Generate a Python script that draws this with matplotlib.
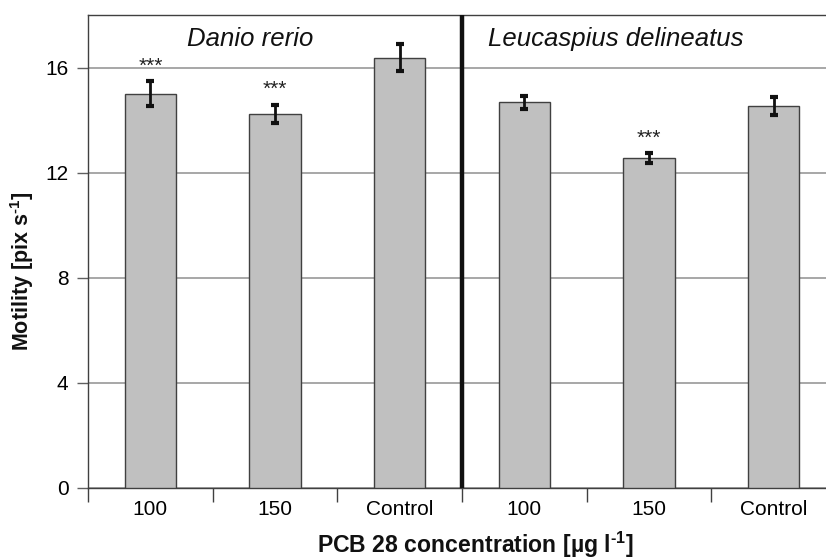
import matplotlib
matplotlib.use("Agg")
import matplotlib.pyplot as plt
import numpy as np

plt.rcParams['font.family'] = ['Liberation Sans', 'DejaVu Sans']
plt.rcParams['mathtext.fontset'] = 'custom'
plt.rcParams['mathtext.rm'] = 'Liberation Sans:bold'
plt.rcParams['mathtext.it'] = 'Liberation Sans:italic'
plt.rcParams['mathtext.bf'] = 'Liberation Sans:bold'

# Motility per treatment, two species side by side
categories = ["100", "150", "Control", "100", "150", "Control"]
motility = [15.0, 14.24, 16.38, 14.68, 12.55, 14.54]
errors = [0.48, 0.34, 0.53, 0.25, 0.19, 0.35]
significance = ["***", "***", "", "", "***", ""]
species = ["Danio rerio", "Leucaspius delineatus"]
yticks = [0, 4, 8, 12, 16]

fig = plt.figure(figsize=(8.26, 5.59), dpi=100)
ax = fig.add_axes([88 / 826, 71.3 / 559, 748 / 826, 472.7 / 559])

x = np.arange(len(categories))
ax.bar(x, motility, width=0.41, color="#c0c0c0", edgecolor="#404040",
       linewidth=1.0, zorder=3)
ax.errorbar(x, motility, yerr=errors, fmt="none", ecolor="#111111",
            elinewidth=2.0, capsize=2.6, capthick=3.0, zorder=4)

for xi, val, err, sig in zip(x, motility, errors, significance):
    if sig:
        ax.text(xi, val + err + 0.22, sig, ha="center", va="bottom",
                fontsize=15, color="#222222", zorder=5)

ax.set_xlim(-0.5, 5.5)
ax.set_ylim(0, 18)
ax.set_yticks(yticks)
ax.yaxis.grid(True, color="#a0a0a0", linewidth=1.3, zorder=0)
ax.set_axisbelow(True)

ax.set_xticks(x)
ax.set_xticklabels(categories, fontsize=15)
ax.set_xticks(np.arange(-0.5, 6.0, 1.0), minor=True)
ax.tick_params(axis="x", which="major", length=0, pad=9)
ax.tick_params(axis="x", which="minor", length=10, width=1, color="#404040",
               direction="out")
ax.tick_params(axis="y", length=8, width=1, color="#606060", direction="out",
               labelsize=15, pad=6)

for side in ["left", "bottom", "top", "right"]:
    ax.spines[side].set_color("#404040")
    ax.spines[side].set_linewidth(1.0)

# species divider
ax.axvline(2.5, color="#111111", linewidth=3.2, zorder=6)

ax.text(0.8, 17.1, species[0], ha="center", va="center", fontsize=18.5,
        style="italic", color="#111111")
ax.text(3.735, 17.1, species[1], ha="center", va="center", fontsize=18.5,
        style="italic", color="#111111")

fig.text(475 / 826, 1 - 545 / 559, r"PCB 28 concentration [µg l$^{\text{-1}}$]",
         ha="center", va="center", fontsize=16.6, fontweight="bold", color="#111111")
fig.text(22 / 826, 1 - 271 / 559, r"Motility [pix s$^{\text{-1}}$]",
         ha="center", va="center", rotation=90, fontsize=15.5, fontweight="bold",
         color="#111111")

fig.savefig("out.png", dpi=100)
